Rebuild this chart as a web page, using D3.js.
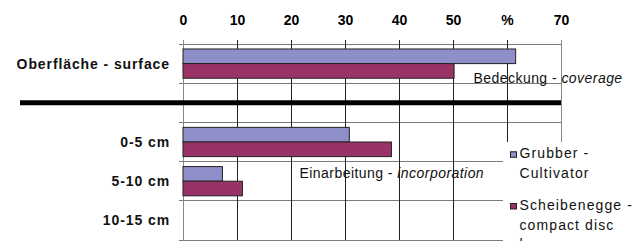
<!DOCTYPE html>
<html><head><meta charset="utf-8">
<script src="https://cdn.jsdelivr.net/npm/d3@7"></script>
<style>body{margin:0;background:#fff}svg{display:block}text{font-family:"Liberation Sans",Arial,sans-serif}</style>
</head><body>
<script>
const categories = ["Oberfläche - surface", "0-5 cm", "5-10 cm", "10-15 cm"];
const seriesNames = ["Grubber -|Cultivator", "Scheibenegge -|compact disc|harrow"];
const grubber = [61.6, 30.8, 7.3, 0];
const scheibenegge = [50.2, 38.6, 11.0, 0];
const tickValues = [0, 10, 20, 30, 40, 50, 60, 70];
const tickLabels = ["0", "10", "20", "30", "40", "50", "%", "70"];
const colors = ["#8e8ec8", "#993366"];

const W = 637, H = 242;
const svg = d3.select("body").append("svg").attr("width", W).attr("height", H);

const x = d3.scaleLinear().domain([0, 70]).range([183, 561]);
const slots = [categories[0], "__sep__", ...categories.slice(1)];
const y = d3.scaleBand().domain(slots).range([44, 240]).padding(0);
const sub = d3.scaleBand().domain([0, 1]).range([0, y.bandwidth()]).paddingInner(0).paddingOuter(0.34);

// horizontal grid lines (band boundaries)
const bounds = slots.map(s => y(s)).concat([y.range()[1]]);
svg.append("g").selectAll("line").data(bounds).join("line")
  .attr("x1", 179).attr("x2", x(70)).attr("y1", d => d).attr("y2", d => d)
  .attr("stroke", "#7a7a7a").attr("stroke-width", 1).attr("shape-rendering", "crispEdges");

// vertical grid lines
svg.append("g").selectAll("line").data(tickValues.slice(1, -1)).join("line")
  .attr("x1", d => x(d)).attr("x2", d => x(d)).attr("y1", 40).attr("y2", 240)
  .attr("stroke", "#222").attr("stroke-width", 1).attr("shape-rendering", "crispEdges");
// axis line and right border
svg.append("line").attr("x1", x(0)).attr("x2", x(0)).attr("y1", 40).attr("y2", 241)
  .attr("stroke", "#888").attr("shape-rendering", "crispEdges");
svg.append("line").attr("x1", x(70)).attr("x2", x(70)).attr("y1", 40).attr("y2", 240)
  .attr("stroke", "#888").attr("shape-rendering", "crispEdges");

// top axis labels
const axis = d3.axisTop(x).tickValues(tickValues).tickFormat((d, i) => tickLabels[i]).tickSize(0).tickPadding(19);
const ax = svg.append("g").attr("transform", "translate(0,44)").call(axis);
ax.select(".domain").remove();
ax.selectAll("text").attr("font-size", 14).attr("font-weight", "bold").attr("fill", "#000")
  .attr("font-family", "Liberation Sans, Arial, sans-serif");

// thick separator line
const sepY = y("__sep__") + y.bandwidth() / 2;
svg.append("line").attr("x1", 20).attr("x2", x(70)).attr("y1", sepY).attr("y2", sepY)
  .attr("stroke", "#000").attr("stroke-width", 5);

// bars
const rows = categories.map((c, i) => ({ c, vals: [grubber[i], scheibenegge[i]] }));
const g = svg.append("g");
rows.forEach(r => {
  g.selectAll(null).data(r.vals.map((v, k) => ({ v, k }))).join("rect")
    .filter(d => d.v > 0)
    .attr("x", x(0)).attr("y", d => y(r.c) + sub(d.k))
    .attr("width", d => x(d.v) - x(0)).attr("height", sub.bandwidth())
    .attr("fill", d => colors[d.k]).attr("stroke", "#222").attr("stroke-width", 1);
});

// category labels
svg.append("g").selectAll("text").data(categories).join("text")
  .attr("x", 170).attr("y", d => y(d) + y.bandwidth() / 2 + 5)
  .attr("text-anchor", "end").attr("font-size", 14).attr("font-weight", "bold")
  .attr("letter-spacing", 0.9).attr("fill", "#111").text(d => d);

// annotations
function annot(xp, yp, plain, ital) {
  const t = svg.append("text").attr("x", xp).attr("y", yp).attr("font-size", 14)
    .attr("letter-spacing", 0.45).attr("fill", "#111");
  t.append("tspan").text(plain);
  t.append("tspan").attr("font-style", "italic").text(ital);
}
annot(473.5, 82.5, "Bedeckung - ", "coverage");
annot(299.5, 177.5, "Einarbeitung - ", "incorporation");

// legend
svg.append("clipPath").attr("id", "lc").append("rect").attr("x", 500).attr("y", 140).attr("width", 137).attr("height", 101);
const lg = svg.append("g").attr("clip-path", "url(#lc)");
lg.append("rect").attr("x", 503).attr("y", 142).attr("width", 134).attr("height", 100).attr("fill", "#fff");
const baseY = [158.3, 210];
seriesNames.forEach((n, k) => {
  lg.append("rect").attr("x", 510.5).attr("y", baseY[k] - 6.5).attr("width", 6).attr("height", 5.5)
    .attr("fill", colors[k]).attr("stroke", "#222").attr("stroke-width", 1);
  const t = lg.append("text").attr("font-size", 14).attr("letter-spacing", 1.1).attr("fill", "#111");
  n.split("|").forEach((line, j) => {
    t.append("tspan").attr("x", 519.5).attr("y", baseY[k] + j * 19.7).text(line);
  });
});
</script>
</body></html>
